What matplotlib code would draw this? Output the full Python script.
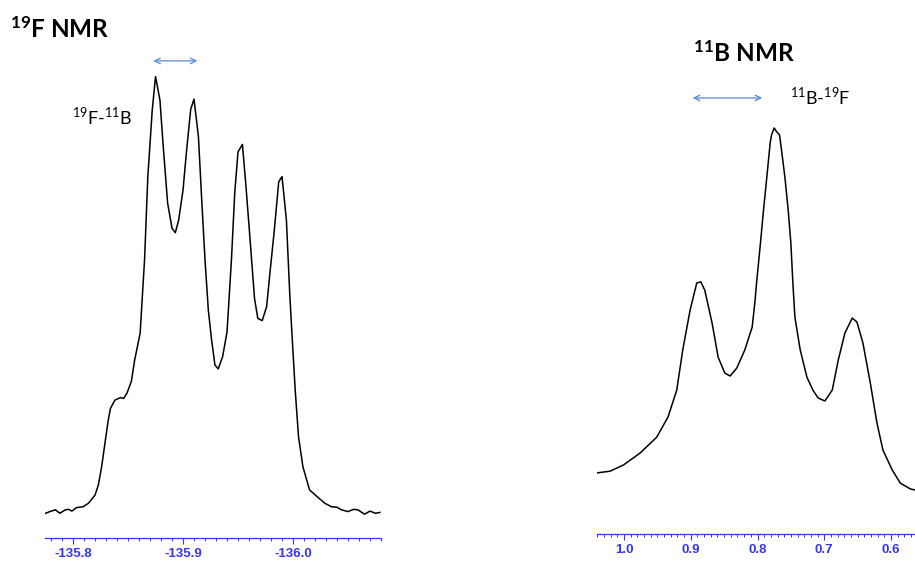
import numpy as np
import matplotlib.pyplot as plt
from matplotlib.ticker import MultipleLocator, FormatStrFormatter

plt.rcParams['axes.unicode_minus'] = False
plt.rcParams['mathtext.fontset'] = 'custom'
plt.rcParams['mathtext.rm'] = 'Lato'
plt.rcParams['mathtext.bf'] = 'Lato:bold'

# 19F spectrum (ppm, intensity)
f_ppm = [-135.775, -135.779, -135.784, -135.788, -135.793, -135.796, -135.799, -135.803,
         -135.809, -135.814, -135.820, -135.823, -135.826, -135.829, -135.832, -135.834,
         -135.838, -135.843, -135.846, -135.849, -135.853, -135.856, -135.861, -135.865,
         -135.868, -135.872, -135.875, -135.879, -135.882, -135.886, -135.890, -135.893,
         -135.896, -135.900, -135.903, -135.907, -135.910, -135.914, -135.917, -135.920,
         -135.923, -135.926, -135.929, -135.932, -135.936, -135.940, -135.944, -135.947,
         -135.950, -135.954, -135.957, -135.961, -135.965, -135.968, -135.972, -135.976,
         -135.979, -135.983, -135.987, -135.990, -135.994, -135.997, -135.999, -136.002,
         -136.005, -136.009, -136.015, -136.022, -136.029, -136.035, -136.040, -136.044,
         -136.050, -136.055, -136.059, -136.065, -136.070, -136.075, -136.079]
f_int = [-0.3, 0.1, 0.5, -0.3, 0.5, 0.6, 0.2, 1.0,
         1.2, 2.0, 3.9, 6.2, 10.4, 15.8, 21.1, 23.8,
         25.7, 26.3, 26.1, 27.3, 30.0, 34.9, 41.1, 57.9,
         77.1, 92.4, 100.1, 94.7, 84.0, 71.0, 65.2, 64.2,
         67.1, 74.0, 82.5, 92.6, 94.9, 86.3, 71.7, 57.9,
         46.4, 39.5, 33.8, 32.9, 35.7, 41.4, 57.9, 73.3,
         82.8, 84.5, 75.6, 62.5, 49.1, 44.5, 44.0, 47.2,
         54.9, 64.8, 75.9, 77.1, 67.1, 50.3, 41.1, 28.0,
         17.3, 10.4, 5.1, 3.5, 2.0, 1.2, 1.1, 0.5,
         0.1, 0.6, 0.5, -0.5, 0.2, -0.3, -0.1]

# 11B spectrum (ppm, intensity)
b_ppm = [1.042, 1.021, 1.001, 0.976, 0.951, 0.934, 0.921, 0.912, 0.901, 0.891,
         0.885, 0.879, 0.868, 0.859, 0.849, 0.841, 0.831, 0.819, 0.808, 0.804,
         0.801, 0.796, 0.791, 0.786, 0.781, 0.779, 0.775, 0.771, 0.767, 0.764,
         0.759, 0.754, 0.750, 0.747, 0.744, 0.736, 0.726, 0.717, 0.709, 0.699,
         0.688, 0.679, 0.669, 0.658, 0.651, 0.642, 0.631, 0.621, 0.612, 0.598,
         0.586, 0.571, 0.564]
b_int = [4.7, 5.2, 6.9, 10.2, 14.6, 20.2, 27.6, 38.7, 49.7, 57.2,
         57.5, 55.2, 46.1, 36.7, 32.3, 31.5, 33.7, 38.7, 45.0, 51.7,
         58.0, 67.4, 77.3, 86.5, 95.9, 98.1, 100.0, 98.9, 98.1, 93.9,
         86.5, 77.3, 68.2, 57.2, 47.8, 38.7, 31.2, 27.6, 25.4, 24.6,
         27.6, 35.9, 43.4, 47.5, 46.4, 40.6, 29.6, 18.5, 11.0, 5.5,
         1.9, 0.3, 0.0]

# coupling arrows (ppm span, height)
f_arrow = (-135.873, -135.913, 103.7)
b_arrow = (0.897, 0.793, 108.3)

blue = '#3535f5'
arrow_blue = '#5a86d8'

fig = plt.figure(figsize=(9.15, 5.62), dpi=100)
W, H = 915, 562

def px(x0, y0, x1, y1):
    return [x0 / W, 1 - y1 / H, (x1 - x0) / W, (y1 - y0) / H]

ax1 = fig.add_axes(px(45, 10, 381, 538))
ax2 = fig.add_axes(px(597, 10, 915, 534))

ax1.plot(f_ppm, f_int, color='black', lw=1.1)
ax1.set_xlim(-135.7745, -136.08)
ax1.set_ylim(-5.98, 115.4)

ax2.plot(b_ppm, b_int, color='black', lw=1.1)
ax2.set_xlim(1.0405, 0.564)
ax2.set_ylim(-12.15, 132.6)

for ax in (ax1, ax2):
    for s in ('top', 'left', 'right'):
        ax.spines[s].set_visible(False)
    ax.spines['bottom'].set_color(blue)
    ax.spines['bottom'].set_linewidth(0.9)
    ax.set_yticks([])
    ax.xaxis.set_major_locator(MultipleLocator(0.1))
    ax.xaxis.set_minor_locator(MultipleLocator(0.01))
    ax.xaxis.set_major_formatter(FormatStrFormatter('%.1f'))
    ax.tick_params(axis='x', which='major', length=4.5, width=0.8, color=blue,
                   labelcolor=blue, pad=2.5)
    ax.tick_params(axis='x', which='minor', length=2, width=0.7, color=blue)
    for lab in ax.get_xticklabels():
        lab.set_fontfamily('Liberation Sans')
        lab.set_fontweight('bold')
        lab.set_fontsize(9.5)
    ax.patch.set_alpha(0)

ax1.annotate('', xy=(f_arrow[0], f_arrow[2]), xytext=(f_arrow[1], f_arrow[2]),
             arrowprops=dict(arrowstyle='<->', color=arrow_blue, lw=0.9,
                             mutation_scale=10, shrinkA=0, shrinkB=0),
             annotation_clip=False)
ax2.annotate('', xy=(b_arrow[0], b_arrow[2]), xytext=(b_arrow[1], b_arrow[2]),
             arrowprops=dict(arrowstyle='<->', color=arrow_blue, lw=0.9,
                             mutation_scale=10, shrinkA=0, shrinkB=0),
             annotation_clip=False)

fig.text(10 / W, 1 - 38 / H, r'$\mathbf{^{19}}$F NMR', fontfamily='Lato',
         fontweight='bold', fontsize=17.5, va='baseline', ha='left')
fig.text(693 / W, 1 - 62 / H, r'$\mathbf{^{11}}$B NMR', fontfamily='Lato',
         fontweight='bold', fontsize=17.5, va='baseline', ha='left')
fig.text(72 / W, 1 - 124 / H, r'$^{19}$F-$^{11}$B', fontfamily='Lato',
         fontsize=13, va='baseline', ha='left')
fig.text(790 / W, 1 - 104 / H, r'$^{11}$B-$^{19}$F', fontfamily='Lato',
         fontsize=13, va='baseline', ha='left')

fig.savefig('out.png', dpi=100)
